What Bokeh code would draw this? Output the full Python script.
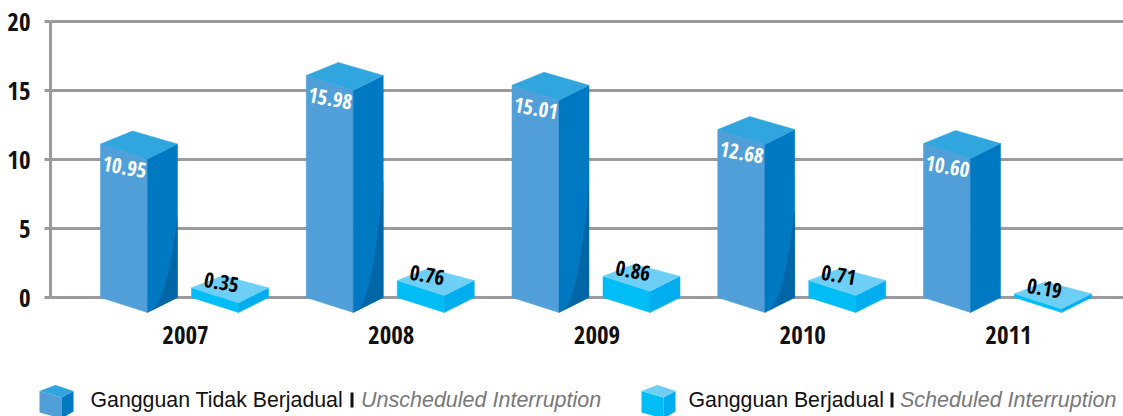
import numpy as np
from bokeh.plotting import figure
from bokeh.models import Range1d, FixedTicker, ColumnDataSource
from bokeh.core.properties import value
from bokeh.embed import file_html
from bokeh.resources import INLINE

# ---- data ----
years = ["2007", "2008", "2009", "2010", "2011"]
unscheduled_labels = ["10.95", "15.98", "15.01", "12.68", "10.60"]
scheduled_labels = ["0.35", "0.76", "0.86", "0.71", "0.19"]
# heights as actually drawn in the picture, read against the y axis
unscheduled_drawn = [11.12, 16.09, 15.38, 12.17, 11.16]
scheduled_drawn = [0.70, 1.23, 1.54, 1.23, 0.27]
has_shadow = [True, True, True, True, False]
y_ticks = [0, 5, 10, 15, 20]
legend_names = ["Gangguan Tidak Berjadual", "Gangguan Berjadual"]
legend_names_en = ["Unscheduled Interruption", "Scheduled Interruption"]

# ---- layout ----
W, H = 1123, 416
AXIS_X = 50
X0, STEP = 185.0, 205.75      # px of first category, px between categories
Y0, PX_PER = 297.0, 13.8      # px of value 0, px per unit
COND = "Open Sans Condensed"
GRID = "#9b9b9f"

def dx(px):
    return px / STEP

def dy(px):
    return px / PX_PER

def sx(px):
    return (px - X0) / STEP

def sy(px):
    return (Y0 - px) / PX_PER

p = figure(width=W, height=H, output_backend="svg", toolbar_location=None,
           x_range=Range1d(sx(0), sx(W)), y_range=Range1d(sy(H), sy(0)),
           min_border=0, outline_line_color=None, x_axis_location=None)

p.xgrid.visible = False
p.ygrid.visible = False
p.segment([sx(AXIS_X)] * len(y_ticks), y_ticks, [sx(W)] * len(y_ticks), y_ticks,
          line_color=GRID, line_width=3, level="underlay")

ya = p.yaxis[0]
ya.fixed_location = sx(AXIS_X)
ya.ticker = FixedTicker(ticks=y_ticks)
ya.bounds = (0, 20)
ya.axis_line_color = GRID
ya.axis_line_width = 3
ya.major_tick_line_color = GRID
ya.major_tick_line_width = 3
ya.major_tick_out = 6
ya.major_tick_in = 0
ya.minor_tick_line_color = None
ya.major_label_standoff = 14
ya.major_label_text_font = COND
ya.major_label_text_font_style = "bold"
ya.major_label_text_font_size = "25px"
ya.major_label_text_color = "#111111"


def box(xc, h, off, back=(32, 13), colors=("#519fd8", "#0079c2", "#31a5de")):
    """Isometric box: h in data units, off = px from category centre to left edge."""
    l = xc + dx(off)
    c = l + dx(47)
    r = l + dx(77)
    b = l + dx(back[0])
    drop = dy(15)
    front = ([l, c, c, l], [0, -drop, h - drop, h])
    side = ([c, r, r, c], [-drop, 0, h, h - drop])
    top = ([l, b, r, c], [h, h + dy(back[1]), h, h - drop])
    for (xs, ys), col in zip((front, side, top), colors):
        p.patch(xs, ys, fill_color=col, line_color=col, line_width=0.5)
    return c, r, drop


for i, h in enumerate(unscheduled_drawn):
    c, r, drop = box(i, h, -85)
    if has_shadow[i]:
        t = np.linspace(0, 1, 25)
        edge = -drop * (1 - t)
        curve = edge + 0.53 * h * t ** 2.7
        xs = list(c + (r - c) * t) + [r]
        ys = list(curve) + [0]
        p.patch(xs, ys, fill_color="#0066a6", line_color=None)

for i, h in enumerate(scheduled_drawn):
    box(i, h, 6, back=(31, 12), colors=("#00bdf6", "#00aeef", "#6dcff6"))

lab_big = ColumnDataSource(dict(x=[i + dx(-85 + 24) for i in range(5)],
                                y=[h - dy(23) for h in unscheduled_drawn],
                                t=unscheduled_labels))
lab_small = ColumnDataSource(dict(x=[i + dx(6 + 30) for i in range(5)],
                                  y=[h + dy(5.5) for h in scheduled_drawn],
                                  t=scheduled_labels))
for src, col in ((lab_big, "#ffffff"), (lab_small, "#000000")):
    p.text("x", "y", text="t", source=src, angle=-10, angle_units="deg",
           text_align="center", text_baseline="middle", text_color=col,
           text_font=value(COND), text_font_style="bold", text_font_size="21px")

# category labels
p.text(list(range(5)), [sy(334)] * 5, text=years, text_align="center", text_baseline="middle",
       text_color="#111111", text_font=value(COND), text_font_style="bold", text_font_size="25px")

# ---- legend ----
def cube(l, colors):
    top_y, back_y = 390.5, 384.5
    c, r, b = l + 22, l + 34, l + 16
    faces = (([l, c, c, l], [top_y, top_y + 6.5, 418, 412]),
             ([c, r, r, c], [top_y + 6.5, top_y, 411, 418]),
             ([l, b, r, c], [top_y, back_y, top_y, top_y + 6.5]))
    for (xs, ys), col in zip(faces, colors):
        p.patch([sx(v) for v in xs], [sy(v) for v in ys], fill_color=col, line_color=None)

cube(39, ("#519fd8", "#0079c2", "#31a5de"))
cube(641, ("#00bdf6", "#00aeef", "#6dcff6"))

LX = [90, 688]
BARX = [351.5, 891.5]
ITX = [360.5, 899.5]
MID = 399
FONT = "Liberation Sans"
for i in range(2):
    p.text([sx(LX[i])], [sy(MID)], text=[legend_names[i]], text_baseline="middle",
           text_font=value(FONT), text_font_size="21.3px", text_color="#111111")
    p.rect([sx(BARX[i])], [sy(399.5)], width=dx(3), height=dy(15), fill_color="#111111", line_color=None)
    p.text([sx(ITX[i])], [sy(MID)], text=[legend_names_en[i]], text_baseline="middle",
           text_font=value(FONT), text_font_style="italic", text_font_size="21.5px",
           text_color="#77787b")

open("out.html", "w").write(file_html(p, INLINE))
